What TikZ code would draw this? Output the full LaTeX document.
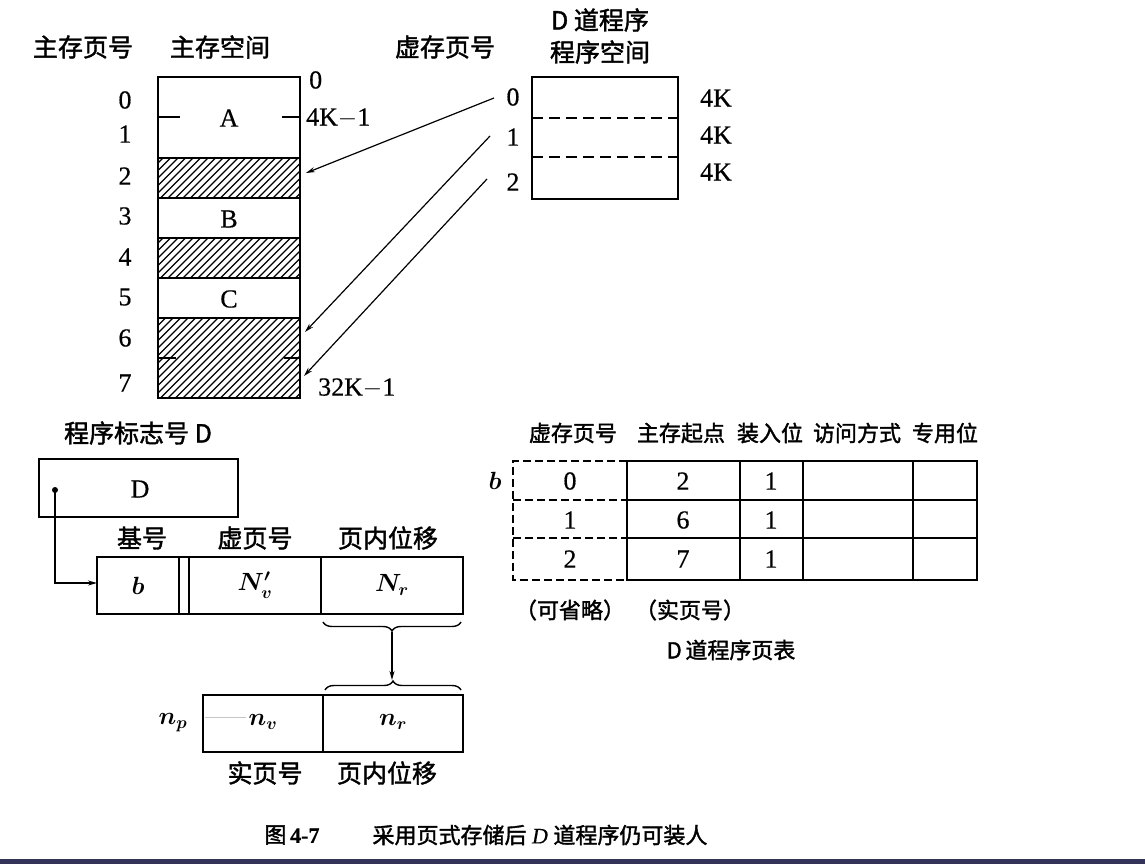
\documentclass[tikz,border=0pt]{standalone}
\usepackage{fontspec}
\setmainfont{Liberation Serif}[FakeBold=0.5]
\newfontfamily\cjk{Noto Sans CJK SC}[FakeBold=1.6]
\usetikzlibrary{arrows.meta,decorations.pathreplacing}
\newcommand\myhatch[2]{%
  \begin{scope}
    \clip (158,#1) rectangle (300,#2);
    \foreach \k in {0,...,32} \draw[hatchline] ({78+\k*7.5},#2) -- ++(82,-82);
  \end{scope}}
\begin{document}
\begin{tikzpicture}[x=1pt,y=-1pt,
  box/.style={line width=1.9pt},
  cn/.style={font=\cjk\fontsize{25}{28}\selectfont, inner sep=0pt},
  cns/.style={font=\cjk\fontsize{22}{26}\selectfont, inner sep=0pt},
  num/.style={font=\fontsize{26}{28}\selectfont, inner sep=0pt},
  mth/.style={font=\boldmath\fontsize{24}{28}\selectfont, inner sep=0pt},
  arr/.style={line width=1.2pt,-{Stealth[length=9pt,width=5pt]}},
  hatchline/.style={line width=1.3pt},
  vdashed/.style={line width=1.6pt, dash pattern=on 11pt off 6pt},
  tdashed/.style={line width=1.6pt, dash pattern=on 8pt off 4pt},
]
\useasboundingbox (0,0) rectangle (1145,864);
\fill[white] (0,0) rectangle (1145,864);
\fill[black!75!blue!60!gray] (0,859) rectangle (1145,864);

% ---------- main memory ----------
\node[cn] (hmp) at (83,47) {主存页号};
\node[cn] (hms) at (220,47) {主存空间};
\myhatch{158}{198}
\myhatch{238}{278}
\myhatch{318}{398}
\draw[box] (158,77) rectangle (300,398);
\foreach \yy in {158,198,238,278,318} \draw[box] (158,\yy) -- (300,\yy);
\draw[line width=1.5pt] (158,117) -- (180,117) (282,117) -- (300,117);
\draw[line width=1.2pt] (158,358) -- (176,358) (284,358) -- (300,358);
\node[num] (mA) at (229,118) {A};
\node[num] (mB) at (229,219) {B};
\node[num] (mC) at (229,299) {C};
\foreach \n/\yy in {0/100,1/134,2/176,3/216,4/257,5/297,6/338,7/383}
  \node[num] (p\n) at (125,\yy) {\n};
\node[num,anchor=west] (r0) at (309,80) {0};
\node[num,anchor=west] (r4k) at (306,118) {4K$-$1};
\node[num,anchor=west] (r32k) at (318,388) {32K$-$1};

% ---------- virtual space ----------
\node[cn] (hvp) at (445,47) {虚存页号};
\node[cn] (hd1) at (600,20) {D 道程序};
\node[cn] (hd2) at (600,52) {程序空间};
\draw[box] (532,77) rectangle (678,199);
\draw[vdashed] (532,118) -- (678,118);
\draw[vdashed] (532,157) -- (678,157);
\node[num] (k0) at (716,98) {4K};
\node[num] (k1) at (716,135) {4K};
\node[num] (k2) at (716,172) {4K};
\node[num] (v0) at (513,97) {0};
\node[num] (v1) at (513,137) {1};
\node[num] (v2) at (513,182) {2};
\coordinate (s0) at (494,98);
\coordinate (s1) at (490,136);
\coordinate (s2) at (487,179);
\coordinate (m2) at (306,173);
\coordinate (m6) at (305,332);
\coordinate (m7) at (304,376);
\draw[arr] (s0) -- (m2);
\draw[arr] (s1) -- (m6);
\draw[arr] (s2) -- (m7);

% ---------- address translation ----------
\node[cn] (hid) at (138,433) {程序标志号 D};
\draw[box] (39,459) rectangle (238,517);
\node[num] (dD) at (140,489) {D};
\fill (55,490) circle (3pt);
\coordinate (dot) at (55,490);
\coordinate (turn) at (55,583);
\coordinate (bin) at (97,583);
\draw[arr] (dot) -- (turn) -- (bin);
\draw[box] (97,557) rectangle (463,614);
\draw[box] (179,557) -- (179,614) (189,557) -- (189,614) (321,557) -- (321,614);
\node[mth] (ab) at (138,586) {$b$};
\node[mth] (aNv) at (255,585) {$N_v'$};
\node[mth] (aNr) at (392,585) {$N_r$};
\node[cn] (hb) at (142,538) {基号};
\node[cn] (hvn) at (255,538) {虚页号};
\node[cn] (hoff) at (388,538) {页内位移};
\draw[line width=1.4pt,decorate,decoration={brace,mirror,amplitude=9pt}] (323,622) -- (461,622);
\coordinate (bt) at (392,632);
\coordinate (bb) at (392,680);
\draw[arr] (bt) -- (bb);
\draw[line width=1.4pt,decorate,decoration={brace,amplitude=9pt}] (325,690) -- (461,690);
\draw[box] (203,695) rectangle (463,752);
\draw[box] (323,695) -- (323,752);
\draw[gray!45, line width=0.8pt] (205,717) -- (246,717);
\node[mth] (np) at (173,723) {$n_p$};
\node[mth] (nv) at (263,722) {$n_v$};
\node[mth] (nr) at (393,722) {$n_r$};
\node[cn] (hrp) at (265,773) {实页号};
\node[cn] (hro) at (387,773) {页内位移};

% ---------- page table ----------
\node[cns] (t1) at (573,433) {虚存页号};
\node[cns] (t2) at (681,433) {主存起点};
\node[cns] (t3) at (770,433) {装入位};
\node[cns] (t4) at (857,433) {访问方式};
\node[cns] (t5) at (945,433) {专用位};
\draw[tdashed] (627,461) -- (513,461) -- (513,580) -- (627,580);
\draw[tdashed] (513,500) -- (627,500) (513,538) -- (627,538);
\draw[box] (627,461) rectangle (977,580);
\draw[box] (627,500) -- (977,500) (627,538) -- (977,538);
\foreach \xx in {740,803,913} \draw[box] (\xx,461) -- (\xx,580);
\node[mth] (tb) at (495,481) {$b$};
\foreach \a/\b/\c/\yy [count=\i] in {0/2/1/481, 1/6/1/520, 2/7/1/559} {
  \node[num] (c1\i) at (570,\yy) {\a};
  \node[num] (c2\i) at (683,\yy) {\b};
  \node[num] (c3\i) at (771,\yy) {\c};
}
\node[cns] (om) at (570,610) {（可省略）};
\node[cns] (rp) at (690,610) {（实页号）};
\node[cns] (tt) at (731,650) {D\,道程序页表};

% ---------- caption ----------
\node[font=\fontsize{22}{26}\selectfont, inner sep=0pt] (cap1) at (292,835) {{\cjk 图}\,\textbf{4-7}};
\node[font=\fontsize{22}{26}\selectfont, inner sep=0pt] (cap2) at (540,835) {{\cjk 采用页式存储后} \textit{D} {\cjk 道程序仍可装人}};
\end{tikzpicture}
\end{document}
